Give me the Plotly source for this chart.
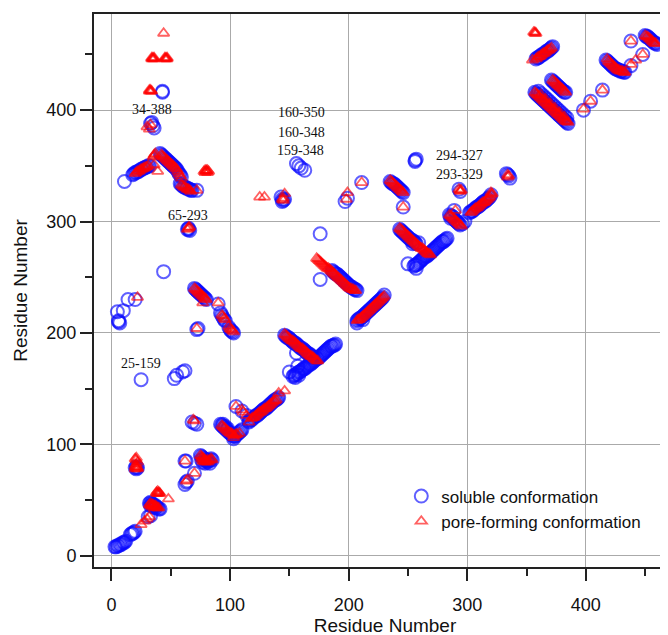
import plotly.graph_objects as go

# ---- data: (residue i, residue j) contact pairs ----
soluble_contacts = [
    (3, 8), (4, 8), (5, 9), (6, 9), (7, 10), (8, 10), (9, 11), (10, 12), (11, 12), (12, 13),
    (16, 19), (17, 20), (18, 20), (19, 21), (20, 22),
    (31, 35), (33, 36),
    (32, 47), (33, 48), (34, 47), (35, 46), (36, 45), (37, 45), (38, 44), (39, 43), (40, 42), (41, 42),
    (33, 45), (35, 44), (37, 43), (34, 46), (36, 44),
    (20, 79), (21, 80), (22, 79), (21, 78),
    (62, 85), (63, 85), (62, 64), (63, 66), (64, 67), (70, 74),
    (75, 90), (76, 89), (77, 88), (78, 87), (79, 86), (80, 85), (81, 84), (82, 85), (83, 86), (84, 87),
    (85, 86), (77, 84), (79, 83), (83, 83), (81, 86), (76, 86),
    (68, 120), (70, 119), (72, 118),
    (92, 118), (93, 117), (94, 116), (95, 115), (96, 114), (97, 113), (98, 112), (99, 111), (100, 110),
    (101, 109), (102, 108), (103, 107), (104, 107), (105, 108), (106, 109), (107, 110), (108, 111),
    (109, 112), (110, 113), (103, 105), (94, 118), (96, 116), (98, 114),
    (105, 134), (110, 130), (114, 126), (116, 120),
    (116, 121), (117, 122), (118, 122), (119, 123), (120, 124), (121, 125), (122, 126), (123, 126),
    (124, 127), (125, 128), (126, 129), (127, 130), (128, 131), (129, 132), (130, 132), (131, 133),
    (132, 134), (133, 135), (134, 136), (135, 137), (136, 138), (137, 139), (138, 140), (139, 140),
    (140, 141), (141, 142),
    (146, 198), (147, 197), (148, 196), (149, 196), (150, 195), (151, 194), (152, 193), (153, 192),
    (154, 191), (155, 191), (156, 190), (157, 189), (158, 188), (159, 187), (160, 186), (161, 186),
    (162, 185), (163, 184), (164, 183), (165, 182), (166, 181), (167, 181), (168, 180), (169, 179),
    (170, 178),
    (153, 161), (154, 162), (155, 162), (156, 163), (157, 164), (158, 165), (159, 165), (160, 166),
    (161, 167), (162, 168), (163, 168), (164, 169), (165, 170), (166, 171), (167, 172), (168, 172),
    (169, 173), (170, 174), (171, 175), (172, 176), (173, 177), (174, 177), (175, 178), (176, 179),
    (177, 180), (178, 181), (179, 182), (180, 183), (181, 184), (182, 185), (183, 186), (184, 187),
    (185, 188), (186, 188), (187, 189), (188, 189), (189, 190),
    (150, 165), (156, 182), (157, 170), (155, 160), (158, 162),
    (176, 289), (176, 248),
    (186, 256), (187, 255), (188, 254), (189, 253), (190, 253), (191, 252), (192, 251), (193, 250),
    (194, 249), (195, 248), (196, 247), (197, 246), (198, 245), (199, 244), (200, 243), (201, 242),
    (202, 241), (203, 241), (204, 240), (205, 239), (206, 239), (207, 238),
    (207, 209), (207, 211), (208, 212), (209, 213), (210, 213), (211, 214), (212, 215), (213, 216),
    (214, 217), (215, 218), (216, 219), (217, 220), (218, 221), (219, 222), (220, 223), (221, 224),
    (222, 225), (223, 226), (224, 227), (225, 228), (226, 229), (227, 230), (228, 231), (229, 232),
    (230, 234), (212, 212),
    (197, 318), (199, 321), (211, 335),
    (143, 322), (144, 320), (145, 319), (146, 320), (144, 318),
    (156, 352), (158, 350), (160, 348), (163, 346),
    (256, 355), (257, 356), (256, 354),
    (235, 336), (236, 335), (237, 334), (238, 334), (239, 333), (240, 332), (241, 331), (242, 330),
    (243, 329), (244, 328), (245, 327), (246, 326),
    (246, 313),
    (243, 293), (244, 292), (245, 291), (246, 290), (247, 289), (248, 288), (249, 287), (250, 286),
    (251, 285), (252, 284), (253, 283), (254, 283), (255, 282), (256, 281), (257, 280),
    (255, 260), (256, 261), (257, 261), (258, 262), (259, 263), (260, 264), (261, 265), (262, 266),
    (263, 267), (264, 268), (265, 269), (266, 269), (267, 270), (268, 271), (269, 272), (270, 273),
    (271, 274), (272, 275), (273, 276), (274, 277), (275, 278), (276, 279), (277, 280), (278, 281),
    (279, 282), (280, 282), (281, 283), (282, 284), (283, 285),
    (250, 262), (257, 258), (254, 280), (259, 281),
    (285, 306), (286, 305), (287, 305), (288, 304), (289, 302), (290, 301), (291, 300), (292, 299),
    (293, 298), (294, 297), (289, 310), (296, 298), (298, 300), (286, 303),
    (294, 327), (293, 329),
    (302, 308), (303, 309), (304, 309), (305, 310), (306, 311), (307, 312), (308, 313), (309, 313),
    (310, 314), (311, 315), (312, 316), (313, 317), (314, 318), (315, 318), (316, 319), (317, 320),
    (318, 321), (319, 322), (320, 324),
    (333, 343), (334, 342), (335, 341), (336, 339),
    (358, 446), (359, 447), (360, 447), (361, 448), (362, 449), (363, 450), (364, 450), (365, 451),
    (366, 452), (367, 453), (368, 453), (369, 454), (370, 455), (371, 456), (372, 457),
    (371, 427), (372, 426), (373, 425), (374, 424), (375, 423), (376, 422), (377, 421), (378, 420),
    (379, 419), (380, 418), (381, 417), (382, 416), (383, 416),
    (357, 416), (358, 415), (359, 414), (360, 413), (361, 412), (362, 411), (363, 410), (364, 409),
    (365, 408), (366, 407), (367, 406), (368, 405), (369, 404), (370, 403), (371, 402), (372, 401),
    (373, 400), (374, 399), (375, 398), (376, 397), (377, 396), (378, 395), (379, 394), (380, 393),
    (381, 392), (382, 391), (383, 390), (384, 389), (385, 388),
    (360, 417), (362, 415), (364, 413), (366, 411), (368, 409), (370, 407), (372, 405), (374, 403),
    (376, 401), (378, 399), (380, 397), (382, 395), (384, 393),
    (398, 400), (404, 408), (414, 418),
    (417, 445), (418, 444), (419, 443), (420, 442), (421, 441), (422, 440), (423, 439), (424, 438),
    (425, 437), (426, 437), (427, 436), (428, 436), (429, 435), (430, 435), (431, 435), (432, 434),
    (433, 434),
    (438, 462), (448, 450), (438, 440),
    (450, 467), (451, 466), (452, 466), (453, 465), (454, 464), (455, 463), (456, 462), (457, 461),
    (458, 460), (459, 460), (460, 459),
    (43, 416), (43, 417),
    (33, 388), (34, 389), (36, 384), (35, 386),
    (18, 342), (19, 343), (20, 344), (21, 344), (22, 345), (23, 345), (24, 346), (25, 347), (26, 347),
    (27, 348), (28, 348), (29, 349), (30, 349), (31, 350), (32, 350),
    (41, 361), (42, 360), (43, 359), (44, 358), (45, 357), (46, 356), (47, 355), (48, 354), (49, 353),
    (50, 352), (51, 351), (52, 350), (53, 349), (54, 348), (55, 347), (56, 345), (57, 343), (58, 342),
    (59, 340),
    (58, 334), (59, 333), (60, 332), (61, 331), (62, 331), (63, 330), (64, 330), (65, 329), (66, 329),
    (67, 328), (68, 328),
    (11, 336), (72, 328),
    (65, 294), (64, 293), (66, 292), (65, 293),
    (44, 255),
    (14, 230), (20, 230), (5, 219), (10, 220), (6, 211), (7, 209), (6, 210),
    (72, 203), (73, 204),
    (70, 240), (71, 239), (72, 238), (73, 237), (74, 236), (75, 235), (76, 234), (77, 233), (78, 232),
    (79, 231), (80, 230),
    (90, 226),
    (92, 218), (93, 216), (94, 214), (95, 212), (96, 211),
    (99, 205), (100, 203), (101, 202), (102, 201), (103, 200),
    (25, 158), (53, 159), (55, 162), (60, 165), (62, 166),
]

pore_contacts = [
    (25, 28), (28, 31), (30, 33), (32, 35),
    (32, 46), (33, 47), (34, 46), (35, 46), (36, 45), (37, 44), (38, 44), (39, 43), (40, 43),
    (34, 44), (36, 43), (33, 45), (35, 45), (37, 45),
    (38, 57), (39, 58), (40, 57), (41, 56), (39, 56), (38, 56), (40, 56),
    (48, 51),
    (20, 78), (21, 80), (21, 82), (22, 84), (21, 86), (20, 87), (22, 79), (21, 88), (20, 80),
    (21, 79), (22, 78),
    (62, 85), (63, 67), (64, 68), (70, 74),
    (75, 90), (76, 89), (77, 88), (78, 87), (79, 86), (80, 85), (81, 84), (82, 85), (83, 86),
    (84, 87), (85, 86), (77, 85), (79, 84), (81, 86), (76, 87), (78, 85),
    (69, 122), (70, 121),
    (93, 117), (94, 116), (95, 115), (96, 114), (97, 113), (98, 112), (99, 111), (100, 110),
    (101, 110), (102, 109), (104, 108), (106, 109), (108, 110), (103, 106), (103, 108), (105, 109),
    (105, 134), (110, 131), (114, 126), (116, 120), (111, 129),
    (118, 123), (119, 124), (120, 124), (121, 125), (122, 126), (123, 127), (124, 128), (125, 129),
    (126, 129), (127, 130), (128, 131), (129, 132), (130, 132), (131, 133), (132, 134), (133, 135),
    (134, 136), (135, 137), (136, 138), (137, 139), (138, 139), (139, 140),
    (141, 146), (146, 148),
    (146, 199), (147, 198), (148, 197), (149, 196), (150, 195), (151, 194), (152, 193), (153, 193),
    (154, 192), (155, 191), (156, 190), (157, 189), (158, 188), (159, 187), (160, 186), (161, 186),
    (162, 185), (163, 184), (164, 183), (165, 182), (166, 181), (167, 180), (168, 179), (169, 179),
    (170, 178), (171, 177), (172, 176), (173, 175), (174, 175),
    (173, 267), (174, 266), (175, 265), (176, 264), (177, 263), (178, 262), (179, 261), (180, 260),
    (181, 259), (182, 258), (183, 258), (184, 257), (185, 256), (186, 255), (187, 254), (188, 253),
    (189, 252), (190, 251), (191, 250), (192, 249), (193, 248), (194, 247), (195, 246), (196, 245),
    (197, 244), (198, 243), (199, 242), (200, 241), (201, 240), (202, 240), (203, 239), (204, 239),
    (205, 238), (206, 238),
    (207, 211), (208, 212), (209, 212), (210, 213), (211, 214), (212, 215), (213, 216), (214, 217),
    (215, 218), (216, 219), (217, 220), (218, 221), (219, 222), (220, 223), (221, 224), (222, 225),
    (223, 226), (224, 227), (225, 228), (226, 229), (227, 230), (228, 231), (229, 232), (230, 233),
    (198, 320), (199, 326), (211, 335),
    (125, 322), (129, 322), (145, 319), (146, 325), (144, 320), (145, 321),
    (235, 337), (236, 336), (237, 335), (238, 334), (239, 333), (240, 332), (241, 331), (242, 330),
    (243, 329), (244, 328), (245, 327), (246, 326),
    (246, 313),
    (243, 294), (244, 293), (245, 292), (246, 291), (247, 290), (248, 289), (249, 288), (250, 287),
    (251, 286), (252, 285), (253, 284), (254, 283), (255, 282), (256, 281), (257, 280), (258, 279),
    (259, 278), (260, 277), (261, 276), (262, 276), (263, 275), (264, 274), (265, 273), (266, 272),
    (267, 271), (268, 271), (269, 270),
    (285, 306), (286, 305), (287, 304), (288, 303), (289, 302), (290, 301), (291, 300), (292, 299),
    (293, 298), (294, 297), (295, 296), (290, 310),
    (294, 327), (293, 329), (294, 328), (295, 328),
    (303, 308), (304, 309), (305, 310), (306, 311), (307, 312), (308, 312), (309, 313), (310, 314),
    (311, 315), (312, 316), (313, 317), (314, 317), (315, 318), (316, 319), (317, 320), (318, 321),
    (319, 322), (320, 324), (321, 325), (320, 326),
    (334, 342), (335, 341), (334, 340),
    (357, 469), (358, 469), (356, 470), (357, 470), (355, 445),
    (358, 446), (359, 447), (360, 448), (361, 448), (362, 449), (363, 450), (364, 451), (365, 451),
    (366, 452), (367, 453), (368, 454), (369, 454), (370, 455), (371, 456),
    (372, 427), (373, 426), (374, 425), (375, 424), (376, 423), (377, 422), (378, 421), (379, 420),
    (380, 419), (381, 418), (382, 417), (383, 416),
    (357, 416), (358, 415), (359, 414), (360, 413), (361, 412), (362, 411), (363, 410), (364, 409),
    (365, 408), (366, 407), (367, 406), (368, 405), (369, 404), (370, 403), (371, 402), (372, 401),
    (373, 400), (374, 399), (375, 398), (376, 397), (377, 396), (378, 395), (379, 394), (380, 393),
    (381, 392), (382, 391), (383, 390), (384, 390), (385, 389),
    (362, 414), (366, 410), (370, 406), (374, 402), (378, 398), (382, 394),
    (398, 401), (404, 408), (414, 418),
    (418, 446), (419, 444), (420, 443), (421, 442), (422, 441), (423, 440), (424, 439), (425, 438),
    (426, 437), (427, 436), (428, 436), (429, 435), (430, 435), (431, 435), (432, 434), (433, 434),
    (438, 441), (442, 445), (438, 462), (448, 450),
    (450, 467), (451, 466), (452, 466), (453, 465), (454, 464), (455, 463), (456, 462), (457, 461),
    (458, 460), (459, 460),
    (44, 469),
    (34, 446), (35, 447), (36, 446), (35, 446), (34, 447), (36, 447),
    (45, 446), (46, 447), (47, 446), (46, 446), (45, 447), (47, 447),
    (32, 417), (33, 418), (34, 417), (33, 417), (32, 418),
    (30, 385), (32, 383), (33, 387),
    (20, 343), (21, 344), (22, 345), (23, 345), (24, 346), (25, 347), (26, 347), (27, 348), (28, 348),
    (29, 349), (30, 349), (31, 350),
    (36, 360), (37, 361), (35, 358), (36, 359), (39, 345), (36, 351),
    (42, 360), (43, 359), (44, 358), (45, 357), (46, 356), (47, 355), (48, 354), (49, 353),
    (50, 352), (51, 351), (52, 350), (53, 349), (54, 348), (55, 347), (56, 345), (57, 343),
    (58, 341), (59, 339),
    (59, 333), (60, 332), (61, 331), (62, 331), (63, 330), (64, 329), (65, 329), (66, 328), (67, 327),
    (72, 328),
    (78, 345), (80, 346), (82, 345), (79, 344), (81, 344), (79, 346), (81, 346), (80, 345),
    (65, 294), (66, 295), (64, 293), (65, 295),
    (22, 232), (72, 204),
    (70, 240), (71, 239), (72, 238), (73, 237), (74, 236), (75, 235), (76, 234), (77, 233),
    (78, 232), (79, 231), (80, 230),
    (77, 227), (90, 227),
    (93, 216), (94, 215), (95, 213), (96, 212),
    (99, 206), (100, 204), (101, 203), (102, 202), (103, 201),
]

annotation_labels = ["34-388", "65-293", "25-159", "160-350", "160-348", "159-348", "294-327", "293-329"]
annotation_x = [34, 64.6, 25.3, 160.2, 160.2, 159.4, 293.7, 293.2]
annotation_y = [400.2, 305, 172.7, 397.7, 379.7, 364.2, 359, 342.6]

x_tick_vals = [0, 100, 200, 300, 400]
y_tick_vals = [0, 100, 200, 300, 400]

sol_x = [p[0] for p in soluble_contacts]
sol_y = [p[1] for p in soluble_contacts]
pore_x = [p[0] for p in pore_contacts]
pore_y = [p[1] for p in pore_contacts]

fig = go.Figure()
fig.add_trace(go.Scatter(
    x=sol_x, y=sol_y, mode="markers", name="soluble conformation",
    marker=dict(symbol="circle-open", size=13, color="rgba(10,10,255,0.65)", line=dict(width=2)),
))
fig.add_trace(go.Scatter(
    x=pore_x, y=pore_y, mode="markers", name="pore-forming conformation",
    marker=dict(symbol="triangle-up-open", size=10, color="rgba(255,0,0,0.62)", line=dict(width=1.8)),
))

for t, ax_, ay_ in zip(annotation_labels, annotation_x, annotation_y):
    fig.add_annotation(x=ax_, y=ay_, text=t, showarrow=False,
                       font=dict(family="Liberation Serif, Times New Roman, serif", size=14, color="#111"))

axis_common = dict(
    showgrid=True, gridcolor="#aaaaaa", gridwidth=1,
    zeroline=False, showline=True, linecolor="#222", linewidth=2,
    ticks="outside", ticklen=12, tickwidth=1.5, tickcolor="#222",
    tickfont=dict(family="Liberation Sans, Arial, sans-serif", size=18, color="#111"),
    minor=dict(dtick=50, ticks="outside", ticklen=7, tickwidth=1.5, tickcolor="#222", showgrid=False),
    automargin=False,
)

# the page body adds an 8 px offset, so margins are reduced by 8 on the left and top
fig.update_layout(
    width=668, height=635,
    margin=dict(l=86, r=0, t=6, b=76),
    plot_bgcolor="white", paper_bgcolor="white",
    showlegend=True,
    legend=dict(x=0.528, y=0.16, xanchor="left", yanchor="top", bgcolor="rgba(0,0,0,0)",
                font=dict(family="Liberation Sans, Arial, sans-serif", size=17, color="#111")),
    xaxis=dict(range=[-14.7, 476.0], tickvals=x_tick_vals, mirror=True, ticklabelstandoff=8,
               title=dict(text="Residue Number", standoff=4,
                          font=dict(family="Liberation Sans, Arial, sans-serif", size=19, color="#111")),
               **axis_common),
    yaxis=dict(range=[-10.1, 486.3], tickvals=y_tick_vals,
               title=dict(text="Residue Number", standoff=14,
                          font=dict(family="Liberation Sans, Arial, sans-serif", size=19, color="#111")),
               **axis_common),
)

fig.write_html("out.html")
